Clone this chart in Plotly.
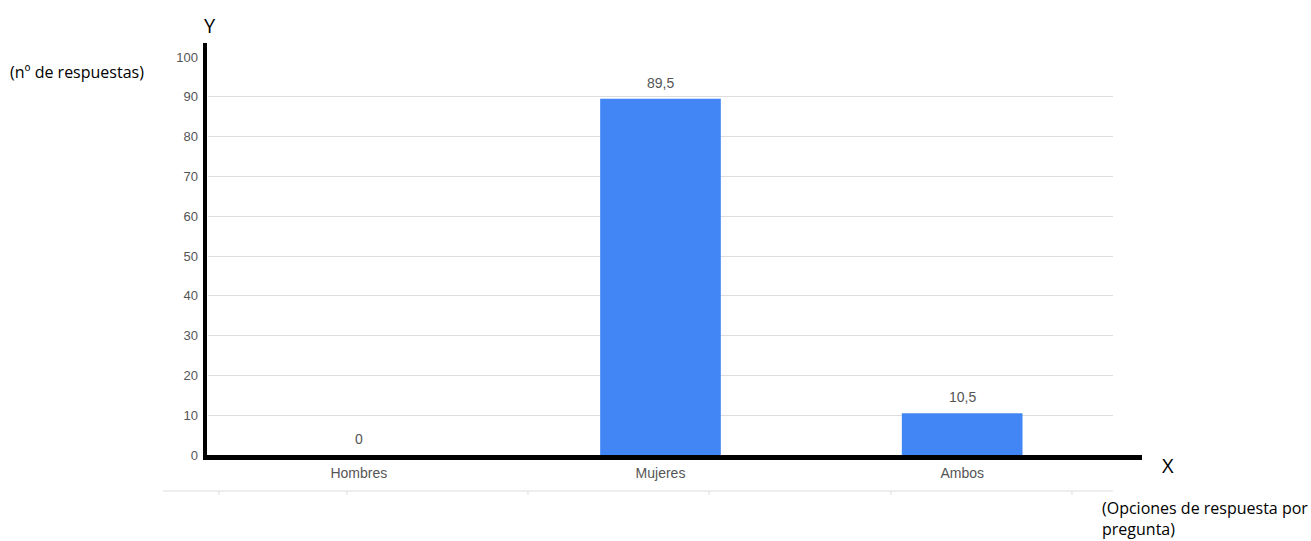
import plotly.graph_objects as go

categories = ["Hombres", "Mujeres", "Ambos"]
values = [0, 89.5, 10.5]
y_ticks = [0, 10, 20, 30, 40, 50, 60, 70, 80, 90, 100]

W, H = 1311, 541
L, R, T, B = 208, 198, 57, 86
pw = W - L - R
ph = H - T - B

def px(x):
    return (x - L) / pw

def py(y):
    return (H - B - y) / ph

def fmt(v):
    return str(v).replace(".", ",") if v % 1 else str(int(v))

fig = go.Figure()
fig.add_trace(go.Bar(
    x=categories, y=values,
    marker=dict(color="#4285F4", line=dict(width=0)),
    width=0.4,
    cliponaxis=False,
))

shapes = [
    dict(type="line", xref="paper", yref="paper", x0=px(205), x1=px(205), y0=py(460), y1=py(43),
         line=dict(color="black", width=4)),
    dict(type="line", xref="paper", yref="paper", x0=px(203), x1=px(1142), y0=py(457.5), y1=py(457.5),
         line=dict(color="black", width=5)),
    dict(type="line", xref="paper", yref="paper", x0=px(163), x1=px(1113), y0=py(491), y1=py(491),
         line=dict(color="#dddddd", width=1)),
]
for tx in [219, 347, 528, 709, 891, 1072]:
    shapes.append(dict(type="line", xref="paper", yref="paper", x0=px(tx), x1=px(tx),
                       y0=py(491), y1=py(495), line=dict(color="#dddddd", width=1)))

label_font = dict(family="Arial, Liberation Sans", size=14, color="#555555")
annotations = []
for c, v in zip(categories, values):
    annotations.append(dict(text=fmt(v), x=c, y=v, xref="x", yref="y", showarrow=False,
                            font=label_font, xanchor="center", yanchor="middle", yshift=16))

big = dict(family="Open Sans", size=20, color="black")
small = dict(family="Open Sans", size=16, color="black")
annotations += [
    dict(text="Y", x=px(210), y=py(25), xref="paper", yref="paper", showarrow=False,
         font=big, xanchor="center", yanchor="middle"),
    dict(text="(nº de respuestas)", x=px(8), y=py(72), xref="paper", yref="paper", showarrow=False,
         font=small, xanchor="left", yanchor="middle"),
    dict(text="X", x=px(1168), y=py(465), xref="paper", yref="paper", showarrow=False,
         font=big, xanchor="center", yanchor="middle"),
    dict(text="(Opciones de respuesta por", x=px(1100), y=py(508), xref="paper", yref="paper", showarrow=False,
         font=small, xanchor="left", yanchor="middle"),
    dict(text="pregunta)", x=px(1100), y=py(529), xref="paper", yref="paper", showarrow=False,
         font=small, xanchor="left", yanchor="middle"),
]

fig.update_layout(
    width=W, height=H,
    margin=dict(l=L, r=R, t=T, b=B, pad=0),
    plot_bgcolor="white", paper_bgcolor="white",
    separators=",.",
    showlegend=False,
    shapes=shapes,
    annotations=annotations,
    xaxis=dict(
        range=[-0.5, 2.5], showgrid=False, zeroline=False, showline=False,
        ticks="", tickfont=label_font,
        ticklabelstandoff=8,
    ),
    yaxis=dict(
        range=[0, 100], tickvals=y_ticks, showgrid=True, gridcolor="#dddddd", gridwidth=1,
        zeroline=False, showline=False, ticks="",
        tickfont=dict(family="Arial, Liberation Sans", size=13, color="#555555"),
        ticklabelstandoff=9,
    ),
)

fig.write_html("out.html")
